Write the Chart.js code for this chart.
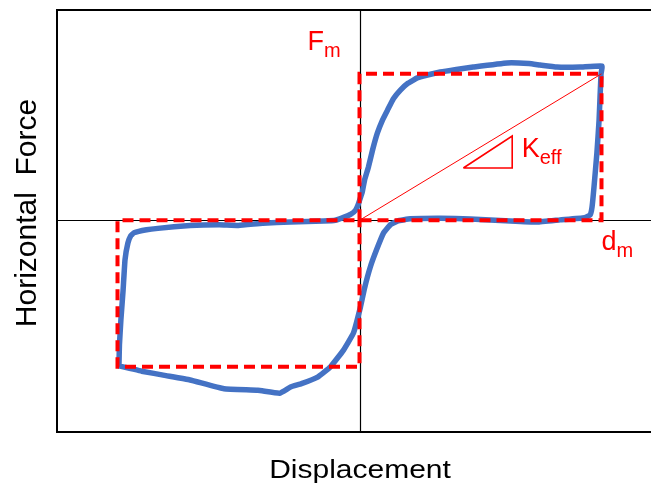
<!DOCTYPE html>
<html>
<head>
<meta charset="utf-8">
<script src="https://cdn.jsdelivr.net/npm/chart.js@4.4.1/dist/chart.umd.min.js"></script>
<style>
  html, body { margin: 0; padding: 0; background: #fff; overflow: hidden; }
  #wrap { width: 651px; height: 484px; overflow: hidden; }
</style>
</head>
<body>
<div id="wrap"><canvas id="loop" width="680" height="484"></canvas></div>
<script>
// hysteresis loop, displacement normalised to d_m, force to F_m
const loopX = [-0.994, -0.992, -0.986, -0.977, -0.969, -0.957, -0.945, -0.932, -0.88, -0.833,
  -0.70, -0.58, -0.50, -0.40, -0.285, -0.148, -0.10, -0.066, -0.037, -0.016,
  -0.005, 0.005, 0.011, 0.021, 0.037, 0.054, 0.074, 0.095, 0.116, 0.14,
  0.169, 0.20, 0.239, 0.334, 0.40, 0.47, 0.61, 0.70, 0.746, 0.816,
  0.911, 1.002, 0.998, 0.99, 0.981, 0.969, 0.961, 0.953, 0.93, 0.829,
  0.734, 0.623, 0.458, 0.334, 0.21, 0.157, 0.128, 0.099, 0.070, 0.045,
  0.021, 0.004, -0.025, -0.066, -0.12, -0.173, -0.24, -0.285, -0.33, -0.42,
  -0.56, -0.70, -0.80, -0.90, -0.95, -0.994];
const loopY = [-0.994, -0.85, -0.68, -0.48, -0.27, -0.155, -0.105, -0.085, -0.065, -0.055,
  -0.035, -0.03, -0.035, -0.02, -0.012, -0.005, 0.0, 0.02, 0.04, 0.07,
  0.11, 0.16, 0.19, 0.275, 0.364, 0.48, 0.596, 0.684, 0.753, 0.83,
  0.889, 0.935, 0.972, 1.012, 1.03, 1.046, 1.074, 1.07, 1.06, 1.046,
  1.046, 1.053, 1.0, 0.684, 0.459, 0.227, 0.091, 0.036, 0.018, 0.003,
  -0.012, -0.005, 0.009, 0.014, 0.01, -0.005, -0.03, -0.087, -0.203, -0.317,
  -0.462, -0.592, -0.77, -0.886, -1.0, -1.07, -1.115, -1.138, -1.18, -1.16,
  -1.15, -1.09, -1.06, -1.03, -1.01, -0.994];

// idealised bilinear envelope (dashed)
const boxX = [0, 0, 1, 1, -1, -1, 0, 0];
const boxY = [0, 1, 1, 0, 0, -1, -1, 0];

// secant stiffness line and slope triangle
const keffX = [0, 1];
const keffY = [0, 1];
const triX = [0.429, 0.631, 0.631, 0.429];
const triY = [0.357, 0.575, 0.357, 0.357];

const toPts = (xs, ys) => xs.map((x, i) => ({ x: x, y: ys[i] }));

const RED = '#ff0000';
const BLUE = '#4472c4';
const FONT = "'Liberation Sans', Arial, sans-serif";

// red labels: main letter, subscript, anchor (data units)
const labels = [
  ['F', 'm', -0.215, 1.16],
  ['K', 'eff', 0.67, 0.43],
  ['d', 'm', 1.0, -0.205]
];

const decor = {
  id: 'decor',
  beforeDatasetsDraw(chart) {
    const { ctx, chartArea: a, scales: { x, y } } = chart;
    ctx.save();
    ctx.strokeStyle = '#000';
    ctx.lineWidth = 1.2;
    const x0 = Math.round(x.getPixelForValue(0)) + 0.5;
    const y0 = Math.round(y.getPixelForValue(0)) + 0.5;
    ctx.beginPath();
    ctx.moveTo(x0, a.top); ctx.lineTo(x0, a.bottom);
    ctx.moveTo(a.left, y0); ctx.lineTo(a.right, y0);
    ctx.stroke();
    ctx.lineWidth = 2;
    ctx.strokeRect(a.left, a.top, a.right - a.left, a.bottom - a.top);
    ctx.restore();
  },
  afterDraw(chart) {
    const { ctx, scales: { x, y } } = chart;
    ctx.save();
    ctx.fillStyle = '#000';
    ctx.textAlign = 'center';
    ctx.textBaseline = 'alphabetic';
    ctx.font = '30px ' + FONT;
    // y title
    ctx.save();
    ctx.translate(36, 213);
    ctx.rotate(-Math.PI / 2);
    ctx.fillText('Horizontal  Force', 0, 0);
    ctx.restore();
    // x title
    ctx.save();
    ctx.translate(360, 478);
    ctx.scale(1, 0.88);
    ctx.fillText('Displacement', 0, 0);
    ctx.restore();

    ctx.fillStyle = RED;
    ctx.textAlign = 'left';
    labels.forEach(([main, sub, vx, vy]) => {
      const px = x.getPixelForValue(vx);
      const py = y.getPixelForValue(vy);
      ctx.font = '27px ' + FONT;
      ctx.fillText(main, px, py);
      const w = ctx.measureText(main).width;
      ctx.font = '20px ' + FONT;
      ctx.fillText(sub, px + w, py + 7);
    });
    ctx.restore();
  }
};

new Chart(document.getElementById('loop').getContext('2d'), {
  type: 'scatter',
  data: {
    datasets: [
      {
        data: toPts(boxX, boxY),
        showLine: true,
        borderColor: RED,
        borderWidth: 4,
        borderDash: [11, 6],
        pointRadius: 0,
        tension: 0
      },
      {
        data: toPts(keffX, keffY),
        showLine: true,
        borderColor: RED,
        borderWidth: 1,
        pointRadius: 0
      },
      {
        data: toPts(triX, triY),
        showLine: true,
        borderColor: RED,
        borderWidth: 1.6,
        pointRadius: 0
      },
      {
        data: toPts(loopX, loopY),
        showLine: true,
        borderColor: BLUE,
        borderWidth: 5.5,
        borderJoinStyle: 'round',
        borderCapStyle: 'round',
        pointRadius: 0,
        tension: 0.1
      }
    ]
  },
  plugins: [decor],
  options: {
    responsive: false,
    animation: false,
    events: [],
    layout: {
      padding: { left: 57, top: 10, right: 18, bottom: 52 }
    },
    plugins: {
      legend: { display: false },
      tooltip: { enabled: false }
    },
    scales: {
      x: { type: 'linear', min: -1.25, max: 1.25, display: false },
      y: { type: 'linear', min: -1.445, max: 1.4355, display: false }
    }
  }
});
</script>
</body>
</html>
